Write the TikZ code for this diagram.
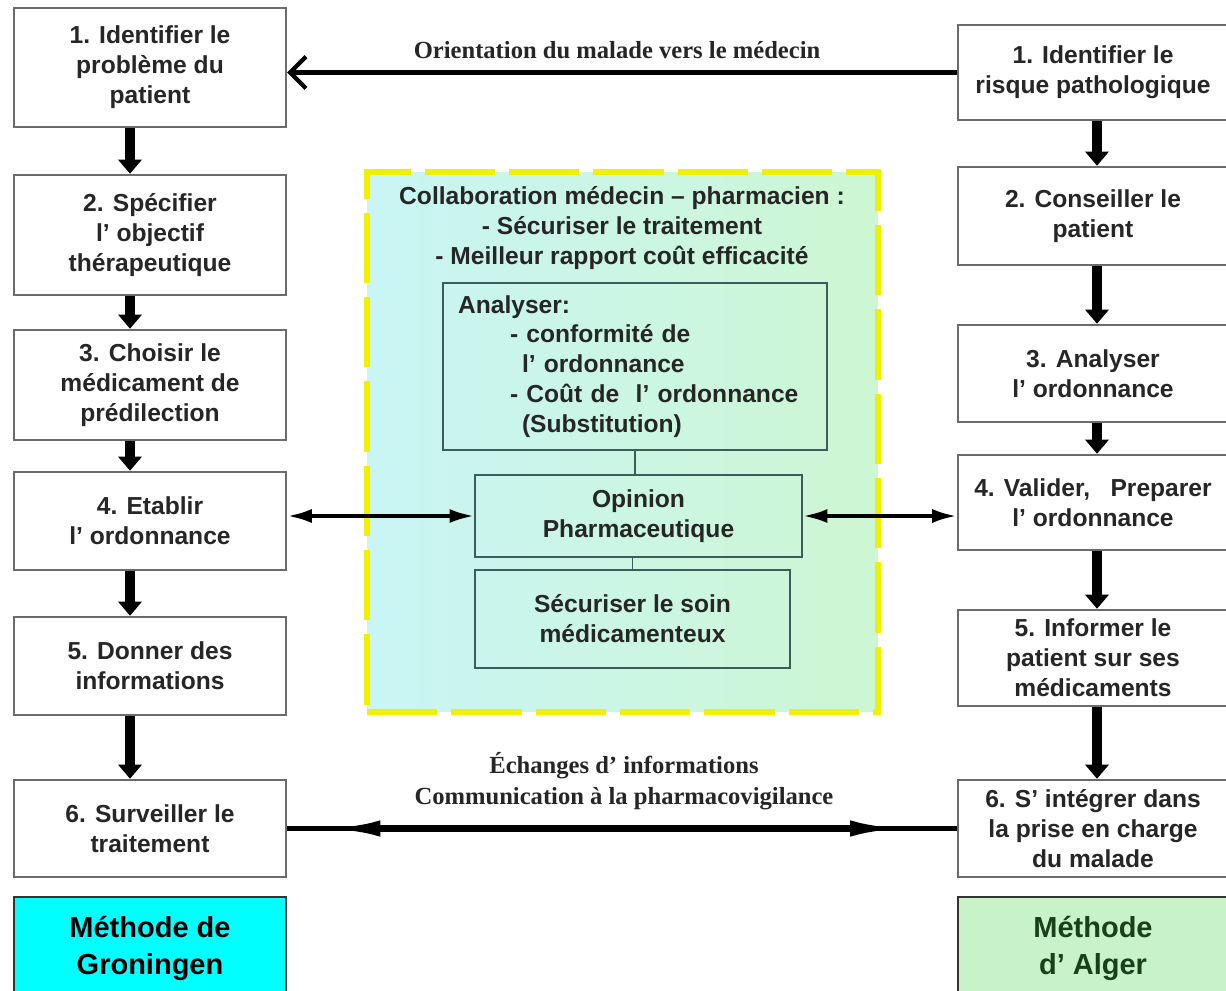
\documentclass[tikz,border=0pt]{standalone}
\usepackage{fontspec}
\setmainfont{Liberation Sans}
\newfontfamily\serifbf{Liberation Serif}
\usetikzlibrary{arrows.meta,calc}
\definecolor{boxgray}{HTML}{6B6B6B}
\definecolor{txtgray}{HTML}{262626}
\definecolor{innerline}{HTML}{3C5C5C}
\definecolor{midcyan}{HTML}{C9F5F5}
\definecolor{midgreen}{HTML}{CDF6D2}
\definecolor{dashyellow}{HTML}{F0F000}
\definecolor{grocyan}{HTML}{00FFFF}
\definecolor{algergreen}{HTML}{C8F2C8}
\definecolor{algertext}{HTML}{1A3F1A}
\begin{document}
\begin{tikzpicture}[x=0.02cm,y=-0.02cm,
	etape/.style={draw=boxgray,line width=1.4pt,fill=white,align=center,text=txtgray,
		font=\bfseries\fontsize{14}{17}\selectfont,inner sep=0pt},
	interne/.style={draw=innerline,line width=1pt,align=center,text=txtgray,
		font=\bfseries\fontsize{14}{17}\selectfont,inner sep=0pt},
	methode/.style={draw=black!80,line width=1.2pt,align=center,
		font=\bfseries\fontsize{16.5}{21}\selectfont,inner sep=0pt},
	fleche/.style={line width=5.5pt,-{Triangle[length=8pt,width=13pt]}},
	double/.style={line width=2.2pt,{Latex[length=14pt,width=8pt]}-{Latex[length=14pt,width=8pt]}},
	etiquette/.style={font=\serifbf\bfseries\fontsize{14}{17.6}\selectfont,align=center,text=txtgray}]

	\useasboundingbox (0,0) rectangle (1226,990); %cadre
	\fill[white] (0,0) rectangle (1226,990);

	%colonne de gauche : Groningen
	\node[etape,minimum width=5.44cm,minimum height=2.38cm] (l1) at (150,67.5) {1. Identifier le\\problème du\\patient};
	\node[etape,minimum width=5.44cm,minimum height=2.4cm] (l2) at (150,235) {2. Spécifier\\l’ objectif\\thérapeutique};
	\node[etape,minimum width=5.44cm,minimum height=2.2cm] (l3) at (150,385) {3. Choisir le\\médicament de\\prédilection};
	\node[etape,minimum width=5.44cm,minimum height=1.96cm] (l4) at (150,521) {4. Etablir\\l’ ordonnance};
	\node[etape,minimum width=5.44cm,minimum height=1.96cm] (l5) at (150,666) {5. Donner des\\informations};
	\node[etape,minimum width=5.44cm,minimum height=1.94cm] (l6) at (150,828.5) {6. Surveiller le\\traitement};
	\node[methode,fill=grocyan,minimum width=5.44cm,minimum height=2.06cm] (gro) at (150,948.5) {Méthode de\\Groningen};

	%colonne de droite : Alger
	\node[etape,minimum width=5.4cm,minimum height=1.9cm] (r1) at (1093,72.5) {1. Identifier le\\risque pathologique};
	\node[etape,minimum width=5.4cm,minimum height=1.96cm] (r2) at (1093,216) {2. Conseiller le\\patient};
	\node[etape,minimum width=5.4cm,minimum height=1.94cm] (r3) at (1093,373.5) {3. Analyser\\l’ ordonnance};
	\node[etape,minimum width=5.4cm,minimum height=1.9cm] (r4) at (1093,502.5) {4. Valider,\ \ \ Preparer\\l’ ordonnance};
	\node[etape,minimum width=5.4cm,minimum height=1.92cm] (r5) at (1093,658) {5. Informer le\\patient sur ses\\médicaments};
	\node[etape,minimum width=5.4cm,minimum height=1.94cm] (r6) at (1093,828.5) {6. S’ intégrer dans\\la prise en charge\\du malade};
	\node[methode,fill=algergreen,text=algertext,minimum width=5.4cm,minimum height=2.06cm] (alg) at (1093,948.5) {Méthode\\d’ Alger};

	%cadre central
	\node[draw=dashyellow,line width=3.4pt,dash pattern=on 40pt off 8pt,left color=midcyan,right color=midgreen,
		minimum width=10.22cm,minimum height=10.8cm] (mid) at (622.5,442) {};
	\node[interne,draw=none] (collab) at (622,228) {Collaboration médecin – pharmacien :\\- Sécuriser le traitement\\- Meilleur rapport coût efficacité};
	\node[interne,align=left,text width=7.08cm,inner xsep=0.3cm,minimum height=3.34cm] (analyser) at (635,366.5)
		{Analyser:\\\hspace*{1.04cm}- conformité de\\\hspace*{1.28cm}l’ ordonnance\\\hspace*{1.04cm}- Coût de\ \ l’ ordonnance\\\hspace*{1.28cm}(Substitution)};
	\node[interne,minimum width=6.54cm,minimum height=1.64cm] (opinion) at (638.5,516) {Opinion\\Pharmaceutique};
	\node[interne,minimum width=6.3cm,minimum height=1.96cm] (soin) at (632.5,619) {Sécuriser le soin\\médicamenteux};
	\draw[innerline,line width=1pt] (analyser.south) -- (analyser.south |- opinion.north);
	\draw[innerline,line width=1pt] (opinion.south -| soin.north) -- (soin.north);

	%fleches verticales
	\foreach \a/\b in {l1/l2,l2/l3,l3/l4,l4/l5,l5/l6}
		\draw[fleche] ([xshift=-0.4cm]\a.south) -- ([xshift=-0.4cm]\b.north);
	\foreach \a/\b in {r1/r2,r2/r3,r3/r4,r4/r5,r5/r6}
		\draw[fleche] ([xshift=0.08cm]\a.south) -- ([xshift=0.08cm]\b.north);

	%fleches horizontales
	\draw[line width=2.4pt,-{Straight Barb[length=9pt,width=18pt]}] (r1.west) -- (r1.west -| l1.east);
	\node[etiquette] (orient) at (617,50) {Orientation\ du malade vers le médecin};
	\draw[double] (opinion.west -| l4.east) -- (opinion.west);
	\draw[double] (opinion.east) -- (opinion.east -| r4.west);
	\coordinate (ga) at ($(l6.east)!0.05!(r6.west)$);
	\coordinate (dr) at ($(l6.east)!0.93!(r6.west)$);
	\draw[line width=2.6pt] (l6.east) -- (r6.west);
	\draw[line width=4pt,{Latex[length=34pt,width=9pt]}-{Latex[length=34pt,width=9pt]}] (ga) -- (dr);
	\node[etiquette] (echange) at (624,781) {Échanges d’ informations\\Communication à la pharmacovigilance};
\end{tikzpicture}
\end{document}
